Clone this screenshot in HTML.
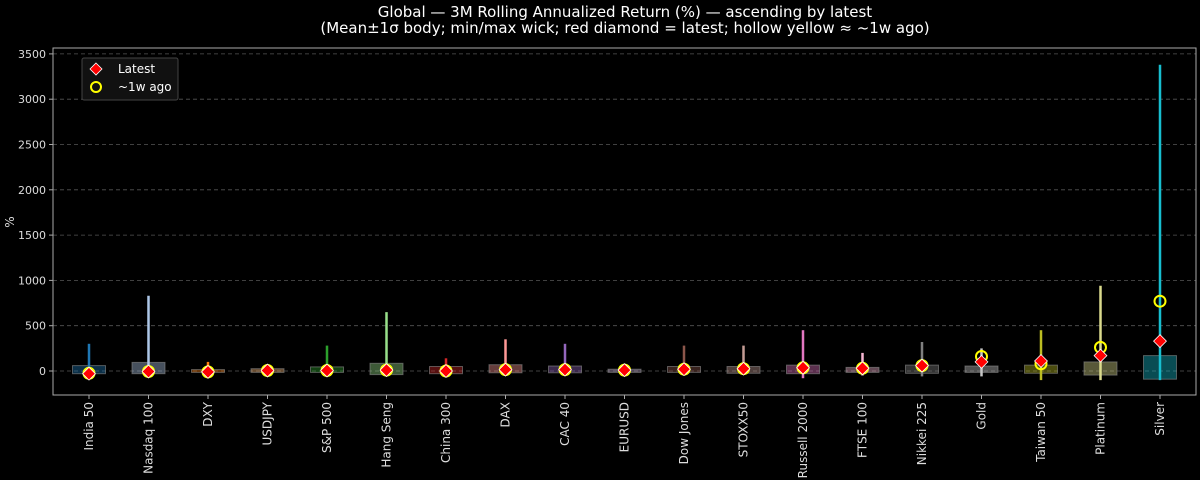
<!DOCTYPE html>
<html><head><meta charset="utf-8"><style>
html,body{margin:0;padding:0;background:#000;}
svg{display:block;font-family:"DejaVu Sans","Liberation Sans",sans-serif;}
</style></head><body>
<svg width="1200" height="480" viewBox="0 0 1200 480">
<rect width="1200" height="480" fill="#000"/>
<text x="625" y="17" fill="#fff" font-size="15" text-anchor="middle">Global — 3M Rolling Annualized Return (%) — ascending by latest</text>
<text x="625" y="33" fill="#fff" font-size="15" text-anchor="middle">(Mean±1σ body; min/max wick; red diamond = latest; hollow yellow ≈ ~1w ago)</text>
<g stroke="#555" stroke-dasharray="4,3" stroke-width="0.8">
<line x1="53" x2="1196" y1="371" y2="371"/><line x1="53" x2="1196" y1="325.7" y2="325.7"/>
<line x1="53" x2="1196" y1="280.4" y2="280.4"/><line x1="53" x2="1196" y1="235.1" y2="235.1"/>
<line x1="53" x2="1196" y1="189.8" y2="189.8"/><line x1="53" x2="1196" y1="144.5" y2="144.5"/>
<line x1="53" x2="1196" y1="99.2" y2="99.2"/><line x1="53" x2="1196" y1="53.9" y2="53.9"/>
</g>
<rect x="53" y="48" width="1143" height="347" fill="none" stroke="#aaa" stroke-width="1"/>
<g fill="#ddd" font-size="11" text-anchor="end">
<text x="46" y="375">0</text><text x="46" y="329.7">500</text><text x="46" y="284.4">1000</text>
<text x="46" y="239.1">1500</text><text x="46" y="193.8">2000</text><text x="46" y="148.5">2500</text>
<text x="46" y="103.2">3000</text><text x="46" y="57.9">3500</text>
</g>
<g stroke="#aaa"><line x1="49" x2="53" y1="371" y2="371"/><line x1="49" x2="53" y1="325.7" y2="325.7"/><line x1="49" x2="53" y1="280.4" y2="280.4"/><line x1="49" x2="53" y1="235.1" y2="235.1"/><line x1="49" x2="53" y1="189.8" y2="189.8"/><line x1="49" x2="53" y1="144.5" y2="144.5"/><line x1="49" x2="53" y1="99.2" y2="99.2"/><line x1="49" x2="53" y1="53.9" y2="53.9"/></g>
<text transform="translate(14,222) rotate(-90)" fill="#ddd" font-size="12" text-anchor="middle">%</text>

<g fill-opacity="0.4" stroke="#888" stroke-opacity="0.6">
<rect x="72.5" y="365.6" width="33" height="8.1" fill="#1f77b4"/>
<rect x="132" y="362.4" width="33" height="11.3" fill="#aec7e8"/>
<rect x="191.5" y="369.6" width="33" height="2.8" fill="#ff7f0e"/>
<rect x="251" y="368.7" width="33" height="3.7" fill="#ffbb78"/>
<rect x="310.5" y="366.9" width="33" height="5.5" fill="#2ca02c"/>
<rect x="370" y="363.3" width="33" height="11.3" fill="#98df8a"/>
<rect x="429.5" y="366.5" width="33" height="7.2" fill="#d62728"/>
<rect x="489" y="364.7" width="33" height="8.1" fill="#ff9896"/>
<rect x="548.5" y="366" width="33" height="6.8" fill="#9467bd"/>
<rect x="608" y="369.2" width="33" height="3.2" fill="#c5b0d5"/>
<rect x="667.5" y="366.5" width="33" height="5.9" fill="#8c564b"/>
<rect x="727" y="366.5" width="33" height="6.8" fill="#c49c94"/>
<rect x="786.5" y="365.1" width="33" height="8.6" fill="#e377c2"/>
<rect x="846" y="367.4" width="33" height="5" fill="#f7b6d2"/>
<rect x="905.5" y="365.1" width="33" height="8.2" fill="#7f7f7f"/>
<rect x="965" y="366" width="33" height="6.4" fill="#c7c7c7"/>
<rect x="1024.5" y="365.1" width="33" height="8.2" fill="#bcbd22"/>
<rect x="1084" y="361.9" width="33" height="13.2" fill="#dbdb8d"/>
<rect x="1143.5" y="355.6" width="33" height="23.6" fill="#17becf"/>
</g>
<g stroke-width="2.5">
<line x1="89" x2="89" y1="343.8" y2="375.5" stroke="#1f77b4"/>
<line x1="148.5" x2="148.5" y1="295.8" y2="375.5" stroke="#aec7e8"/>
<line x1="208" x2="208" y1="361.9" y2="371.9" stroke="#ff7f0e"/>
<line x1="267.5" x2="267.5" y1="364.7" y2="372.8" stroke="#ffbb78"/>
<line x1="327" x2="327" y1="345.6" y2="373.7" stroke="#2ca02c"/>
<line x1="386.5" x2="386.5" y1="312.1" y2="376.4" stroke="#98df8a"/>
<line x1="446" x2="446" y1="358.3" y2="372.8" stroke="#d62728"/>
<line x1="505.5" x2="505.5" y1="339.3" y2="373.7" stroke="#ff9896"/>
<line x1="565" x2="565" y1="343.8" y2="372.8" stroke="#9467bd"/>
<line x1="624.5" x2="624.5" y1="367.4" y2="372.4" stroke="#c5b0d5"/>
<line x1="684" x2="684" y1="345.6" y2="372.8" stroke="#8c564b"/>
<line x1="743.5" x2="743.5" y1="345.6" y2="373.7" stroke="#c49c94"/>
<line x1="803" x2="803" y1="330.2" y2="378.2" stroke="#e377c2"/>
<line x1="862.5" x2="862.5" y1="352.9" y2="375.5" stroke="#f7b6d2"/>
<line x1="922" x2="922" y1="342" y2="376.4" stroke="#7f7f7f"/>
<line x1="981.5" x2="981.5" y1="348.4" y2="376.4" stroke="#c7c7c7"/>
<line x1="1041" x2="1041" y1="330.2" y2="380.1" stroke="#bcbd22"/>
<line x1="1100.5" x2="1100.5" y1="285.8" y2="380.1" stroke="#dbdb8d"/>
<line x1="1160" x2="1160" y1="64.8" y2="380.1" stroke="#17becf"/>
</g>
<g fill="none" stroke="#ff0" stroke-width="2">
<circle cx="89" cy="373.3" r="5.5"/><circle cx="148.5" cy="371.5" r="5.5"/><circle cx="208" cy="371.9" r="5.5"/>
<circle cx="267.5" cy="370.5" r="5.5"/><circle cx="327" cy="370.5" r="5.5"/><circle cx="386.5" cy="370.1" r="5.5"/>
<circle cx="446" cy="371" r="5.5"/><circle cx="505.5" cy="369.6" r="5.5"/><circle cx="565" cy="369.6" r="5.5"/>
<circle cx="624.5" cy="370.1" r="5.5"/><circle cx="684" cy="369.2" r="5.5"/><circle cx="743.5" cy="368.7" r="5.5"/>
<circle cx="803" cy="367.8" r="5.5"/><circle cx="862.5" cy="368.3" r="5.5"/><circle cx="922" cy="365.6" r="5.5"/>
<circle cx="981.5" cy="356.5" r="5.5"/><circle cx="1041" cy="363.8" r="5.5"/><circle cx="1100.5" cy="347.4" r="5.5"/>
<circle cx="1160" cy="301.2" r="5.5"/>
</g>
<g fill="#f00" stroke="#fff" stroke-width="0.8">
<path d="M89 367.3L95.4 373.7L89 380.1L82.6 373.7Z"/>
<path d="M148.5 365.1L154.9 371.5L148.5 377.9L142.1 371.5Z"/>
<path d="M208 365.5L214.4 371.9L208 378.3L201.6 371.9Z"/>
<path d="M267.5 364.1L273.9 370.5L267.5 376.9L261.1 370.5Z"/>
<path d="M327 364.1L333.4 370.5L327 376.9L320.6 370.5Z"/>
<path d="M386.5 363.7L392.9 370.1L386.5 376.5L380.1 370.1Z"/>
<path d="M446 364.6L452.4 371L446 377.4L439.6 371Z"/>
<path d="M505.5 363.2L511.9 369.6L505.5 376L499.1 369.6Z"/>
<path d="M565 363.2L571.4 369.6L565 376L558.6 369.6Z"/>
<path d="M624.5 363.7L630.9 370.1L624.5 376.5L618.1 370.1Z"/>
<path d="M684 362.8L690.4 369.2L684 375.6L677.6 369.2Z"/>
<path d="M743.5 362.3L749.9 368.7L743.5 375.1L737.1 368.7Z"/>
<path d="M803 361.4L809.4 367.8L803 374.2L796.6 367.8Z"/>
<path d="M862.5 361.9L868.9 368.3L862.5 374.7L856.1 368.3Z"/>
<path d="M922 359.2L928.4 365.6L922 372L915.6 365.6Z"/>
<path d="M981.5 355.5L987.9 361.9L981.5 368.3L975.1 361.9Z"/>
<path d="M1041 354.6L1047.4 361L1041 367.4L1034.6 361Z"/>
<path d="M1100.5 349.2L1106.9 355.6L1100.5 362L1094.1 355.6Z"/>
<path d="M1160 334.7L1166.4 341.1L1160 347.5L1153.6 341.1Z"/>
</g>
<g stroke="#aaa">
<line x1="89" x2="89" y1="395" y2="399"/><line x1="148.5" x2="148.5" y1="395" y2="399"/><line x1="208" x2="208" y1="395" y2="399"/><line x1="267.5" x2="267.5" y1="395" y2="399"/><line x1="327" x2="327" y1="395" y2="399"/><line x1="386.5" x2="386.5" y1="395" y2="399"/><line x1="446" x2="446" y1="395" y2="399"/><line x1="505.5" x2="505.5" y1="395" y2="399"/><line x1="565" x2="565" y1="395" y2="399"/><line x1="624.5" x2="624.5" y1="395" y2="399"/><line x1="684" x2="684" y1="395" y2="399"/><line x1="743.5" x2="743.5" y1="395" y2="399"/><line x1="803" x2="803" y1="395" y2="399"/><line x1="862.5" x2="862.5" y1="395" y2="399"/><line x1="922" x2="922" y1="395" y2="399"/><line x1="981.5" x2="981.5" y1="395" y2="399"/><line x1="1041" x2="1041" y1="395" y2="399"/><line x1="1100.5" x2="1100.5" y1="395" y2="399"/><line x1="1160" x2="1160" y1="395" y2="399"/>
</g>
<g fill="#ddd" font-size="12" text-anchor="end">
<text transform="translate(93,402) rotate(-90)">India 50</text>
<text transform="translate(152.5,402) rotate(-90)">Nasdaq 100</text>
<text transform="translate(212,402) rotate(-90)">DXY</text>
<text transform="translate(271.5,402) rotate(-90)">USDJPY</text>
<text transform="translate(331,402) rotate(-90)">S&amp;P 500</text>
<text transform="translate(390.5,402) rotate(-90)">Hang Seng</text>
<text transform="translate(450,402) rotate(-90)">China 300</text>
<text transform="translate(509.5,402) rotate(-90)">DAX</text>
<text transform="translate(569,402) rotate(-90)">CAC 40</text>
<text transform="translate(628.5,402) rotate(-90)">EURUSD</text>
<text transform="translate(688,402) rotate(-90)">Dow Jones</text>
<text transform="translate(747.5,402) rotate(-90)">STOXX50</text>
<text transform="translate(807,402) rotate(-90)">Russell 2000</text>
<text transform="translate(866.5,402) rotate(-90)">FTSE 100</text>
<text transform="translate(926,402) rotate(-90)">Nikkei 225</text>
<text transform="translate(985.5,402) rotate(-90)">Gold</text>
<text transform="translate(1045,402) rotate(-90)">Taiwan 50</text>
<text transform="translate(1104.5,402) rotate(-90)">Platinum</text>
<text transform="translate(1164,402) rotate(-90)">Silver</text>
</g>
<rect x="82" y="58" width="96" height="42" fill="#111" stroke="#444" rx="2"/>
<path d="M96 63L102 69L96 75L90 69Z" fill="#f00" stroke="#fff" stroke-width="0.8"/>
<text x="118" y="73" fill="#fff" font-size="12">Latest</text>
<circle cx="96" cy="87" r="5" fill="none" stroke="#ff0" stroke-width="2"/>
<text x="118" y="91" fill="#fff" font-size="12">~1w ago</text>
</svg>
</body></html>
